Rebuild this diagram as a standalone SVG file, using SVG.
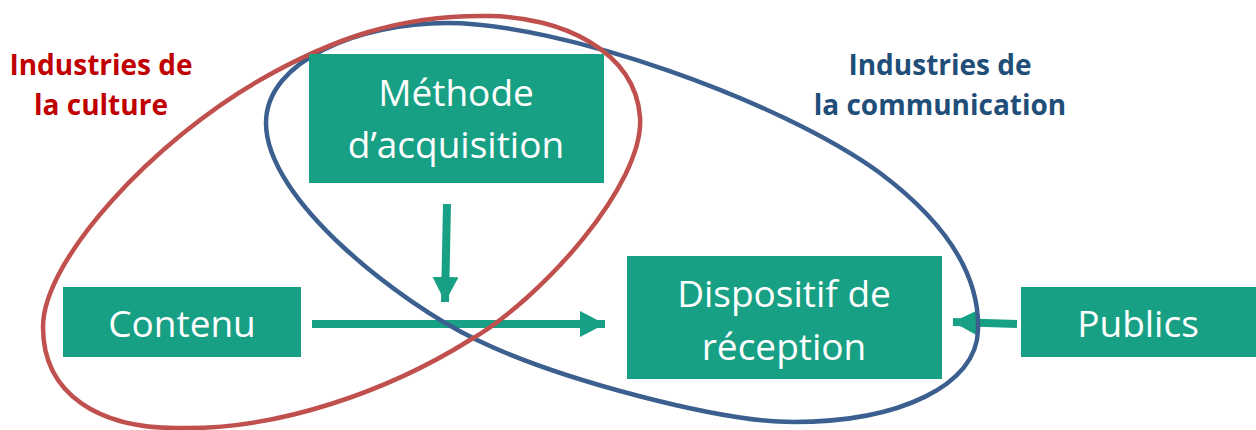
<svg xmlns="http://www.w3.org/2000/svg" width="1256" height="430" viewBox="0 0 1256 430">
<style>
.box{fill:#18A085}
.bt{font-family:"Open Sans","Liberation Sans",sans-serif;font-size:37px;fill:#fff;text-anchor:middle}
.lbl{font-family:"Open Sans","Liberation Sans",sans-serif;font-size:28px;font-weight:bold;text-anchor:middle}
.conn{stroke:#18A085;stroke-width:8;fill:none;marker-end:url(#ah)}
.ell{fill:none;stroke-width:4.5}
</style>
<defs>
<marker id="ah" viewBox="0 0 25 26" markerWidth="25" markerHeight="26" refX="25" refY="13" orient="auto" markerUnits="userSpaceOnUse">
<path d="M0,0 L25,13 L0,26 z" fill="#18A085"/>
</marker>
</defs>
<rect width="1256" height="430" fill="#fff"/>
<g id="connectors">
<line class="conn" x1="447" y1="204" x2="445" y2="302"/>
<line class="conn" x1="312" y1="324" x2="605" y2="324"/>
<line class="conn" x1="1017" y1="324" x2="953" y2="322"/>
</g>
<g id="industries-communication">
<path class="ell" stroke="#3B5F8E" d="M447,23 C560,23 780,100 880,173 C940,218 980,270 978,330 C977,385 900,422 793,422 C720,422 560,380 477,340 C400,303 266,200 266,123 C266,60 360,23 447,23 Z"/>
<text class="lbl" fill="#1F4E79" x="940" y="75">Industries de</text>
<text class="lbl" fill="#1F4E79" x="940" y="115">la communication</text>
</g>
<g id="industries-culture">
<path class="ell" stroke="#C0504D" d="M490,16 C560,17 635,50 640,117 C645,184 540,300 470,340 C390,390 280,430 180,428 C100,429 43,395 43,327 C43,259 155,140 260,80 C330,40 400,14 490,16 Z"/>
<text class="lbl" fill="#C00000" x="101" y="75">Industries de</text>
<text class="lbl" fill="#C00000" x="101" y="115">la culture</text>
</g>
<g id="methode">
<rect class="box" x="309" y="54" width="295" height="129"/>
<text class="bt" x="456" y="106">Méthode</text>
<text class="bt" x="456" y="158">d’acquisition</text>
</g>
<g id="contenu">
<rect class="box" x="63" y="287" width="238" height="70"/>
<text class="bt" x="182" y="337">Contenu</text>
</g>
<g id="dispositif">
<rect class="box" x="627" y="256" width="315" height="123"/>
<text class="bt" x="784" y="307">Dispositif de</text>
<text class="bt" x="784" y="360">réception</text>
</g>
<g id="publics">
<rect class="box" x="1021" y="287" width="235" height="70"/>
<text class="bt" x="1138" y="337">Publics</text>
</g>
</svg>
